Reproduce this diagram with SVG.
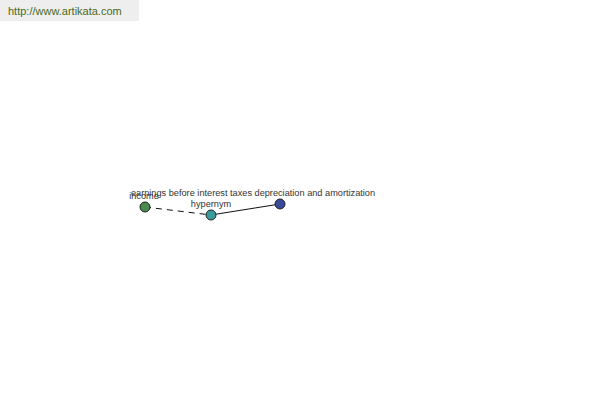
<svg xmlns="http://www.w3.org/2000/svg" width="600" height="400" viewBox="0 0 600 400">
<style>
.lbl{font-family:"Liberation Sans",Arial,sans-serif;font-size:9.2px;fill:#333}
.node{stroke:#222;stroke-width:1}
</style>
<rect x="0" y="0" width="600" height="400" fill="#fff"/>
<rect x="0" y="0" width="139" height="21" fill="#eeeeee"/>
<text x="8" y="15" font-family="'Liberation Sans',Arial,sans-serif" font-size="11px" fill="#4a6a1a">http://www.artikata.com</text>
<g id="connectors" stroke="#111" stroke-width="1" fill="none">
<line x1="145" y1="207" x2="211" y2="215" stroke-dasharray="6,5"/>
<line x1="211" y1="215" x2="280" y2="204"/>
</g>
<g id="node-income">
<circle class="node" cx="145" cy="207" r="5" fill="#4a8a4a"/>
<text class="lbl" x="144" y="199" text-anchor="middle">income</text>
</g>
<g id="node-earnings">
<circle class="node" cx="280" cy="204" r="5" fill="#3a4a9a"/>
<text class="lbl" x="253" y="196" text-anchor="middle">earnings before interest taxes depreciation and amortization</text>
</g>
<g id="node-hypernym">
<circle class="node" cx="211" cy="215" r="5" fill="#3a9a9a"/>
<text class="lbl" x="211" y="207" text-anchor="middle">hypernym</text>
</g>
</svg>
